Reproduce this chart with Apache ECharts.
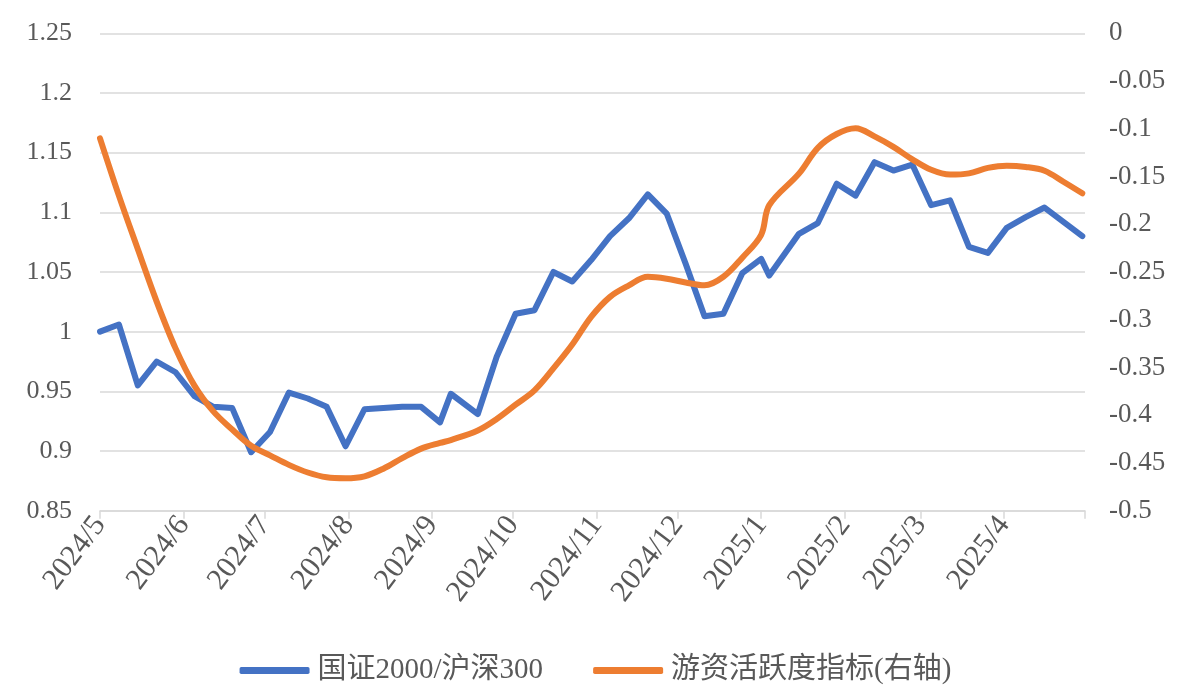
<!DOCTYPE html>
<html>
<head>
<meta charset="utf-8">
<script src="https://cdn.jsdelivr.net/npm/echarts@6/dist/echarts.min.js"></script>
<style>
html,body{margin:0;padding:0;background:#fff;}
#chart{width:1191px;height:696px;}
</style>
</head>
<body>
<div id="chart"></div>
<script>
// Observation dates (weekly, with two irregular points)
const dates = [
  '2024-05-01','2024-05-08','2024-05-15','2024-05-22','2024-05-29',
  '2024-06-05','2024-06-12','2024-06-19','2024-06-26',
  '2024-07-03','2024-07-10','2024-07-17','2024-07-24','2024-07-31',
  '2024-08-07','2024-08-14','2024-08-21','2024-08-28',
  '2024-09-04','2024-09-08','2024-09-18','2024-09-25',
  '2024-10-02','2024-10-09','2024-10-16','2024-10-23','2024-10-30',
  '2024-11-06','2024-11-13','2024-11-20','2024-11-27',
  '2024-12-04','2024-12-11','2024-12-18','2024-12-25',
  '2025-01-01','2025-01-04','2025-01-15','2025-01-22','2025-01-29',
  '2025-02-05','2025-02-12','2025-02-19','2025-02-26',
  '2025-03-05','2025-03-12','2025-03-19','2025-03-26',
  '2025-04-02','2025-04-09','2025-04-16','2025-04-23','2025-04-30'
];
// 国证2000/沪深300 (left axis)
const ratio = [
  1.000,1.006,0.955,0.975,0.966,
  0.946,0.937,0.936,0.899,
  0.916,0.949,0.944,0.937,0.904,
  0.935,0.936,0.937,0.937,
  0.924,0.948,0.931,0.979,
  1.015,1.018,1.050,1.042,1.060,
  1.080,1.095,1.115,1.099,
  1.057,1.013,1.015,1.049,
  1.061,1.047,1.082,1.091,1.124,
  1.114,1.142,1.135,1.140,
  1.106,1.110,1.071,1.066,
  1.087,1.096,1.104,1.092,1.080
];
// 游资活跃度指标 (right axis)
const activity = [
  -0.110,-0.170,-0.226,-0.281,-0.330,
  -0.369,-0.396,-0.415,-0.432,
  -0.442,-0.452,-0.460,-0.465,-0.466,
  -0.464,-0.456,-0.445,-0.435,
  -0.429,-0.426,-0.416,-0.404,
  -0.389,-0.374,-0.351,-0.326,-0.297,
  -0.276,-0.264,-0.255,-0.257,
  -0.261,-0.264,-0.255,-0.235,
  -0.211,-0.180,-0.147,-0.120,-0.1055,
  -0.0995,-0.108,-0.119,-0.132,
  -0.143,-0.148,-0.1467,-0.141,
  -0.1387,-0.140,-0.144,-0.1555,-0.1676
];
const seriesNames = ['国证2000/沪深300','游资活跃度指标(右轴)'];
const axisStart = '2024-05-01';
const axisEnd = '2025-05-01';

// daily category axis
const days = [];
(function(){
  const s = new Date(axisStart + 'T00:00:00Z'), e = new Date(axisEnd + 'T00:00:00Z');
  for (let t = s.getTime(); t <= e.getTime(); t += 86400000) {
    days.push(new Date(t).toISOString().slice(0,10));
  }
})();
const isMonthStart = (i, v) => v.slice(8) === '01';

const font = "'Liberation Serif','Noto Sans CJK SC',serif";
const chart = echarts.init(document.getElementById('chart'), null, {renderer:'canvas'});
chart.setOption({
  animation:false,
  backgroundColor:'#ffffff',
  grid:{left:100,right:106,top:33.3,bottom:185.3,containLabel:false},
  legend:{
    bottom:6, left:'center',
    itemWidth:70, itemHeight:7, itemGap:50,
    icon:'roundRect',
    textStyle:{fontFamily:font,fontSize:29,color:'#595959',padding:[0,0,0,3]},
    data:seriesNames
  },
  xAxis:{
    type:'category', data:days, boundaryGap:false,
    axisLine:{onZero:false,lineStyle:{color:'#d9d9d9',width:1.5}},
    axisTick:{show:true,interval:isMonthStart,length:8,lineStyle:{color:'#d9d9d9',width:1.5}},
    axisLabel:{
      interval:(i,v)=> isMonthStart(i,v) && v !== axisEnd,
      rotate:53, margin:9,
      fontFamily:font, fontSize:30, color:'#595959',
      formatter:v=> v.slice(0,4) + '/' + parseInt(v.slice(5,7),10)
    },
    splitLine:{show:false}
  },
  yAxis:[
    {type:'value',min:0.85,max:1.25,interval:0.05,
     axisLine:{show:false},axisTick:{show:false},
     axisLabel:{fontFamily:font,fontSize:26,color:'#595959',margin:28},
     splitLine:{lineStyle:{color:'#d9d9d9',width:1.5}}},
    {type:'value',min:-0.5,max:0,interval:0.05,position:'right',
     axisLine:{show:false},axisTick:{show:false},
     axisLabel:{fontFamily:font,fontSize:27,color:'#595959',margin:24},
     splitLine:{show:false}}
  ],
  series:[
    {name:seriesNames[0],type:'line',yAxisIndex:0,showSymbol:false,
     data:dates.map((d,i)=>[d,ratio[i]]),
     lineStyle:{color:'#4472C4',width:6,cap:'round',join:'round'},
     itemStyle:{color:'#4472C4'}},
    {name:seriesNames[1],type:'line',yAxisIndex:1,showSymbol:false,smooth:0.35,
     data:dates.map((d,i)=>[d,activity[i]]),
     lineStyle:{color:'#ED7D31',width:6,cap:'round',join:'round'},
     itemStyle:{color:'#ED7D31'}}
  ]
});
</script>
</body>
</html>
